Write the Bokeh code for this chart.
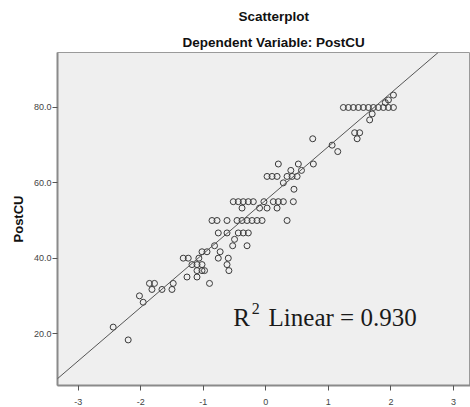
from bokeh.plotting import figure
from bokeh.models import Range1d, Label, Slope, FixedTicker, ColumnDataSource, Title
from bokeh.embed import file_html
from bokeh.resources import INLINE

title_text = "Scatterplot"
subtitle_text = "Dependent Variable: PostCU"
y_axis_label = "PostCU"
r2_base = "R"
r2_sup = "2"
r2_rest = "Linear = 0.930"

x_ticks = [-3, -2, -1, 0, 1, 2, 3]
x_tick_labels = ["-3", "-2", "-1", "0", "1", "2", "3"]
y_ticks = [20, 40, 60, 80]
y_tick_labels = ["20.0", "40.0", "60.0", "80.0"]

fit_intercept = 55.4
fit_slope = 14.23

# standardized predicted value (x) and PostCU (y)
x_vals = [
    -2.44, -2.20, -2.02, -1.96, -1.86, -1.78, -1.82, -1.66, -1.48, -1.50,
    -1.32, -1.24, -1.26, -1.10, -0.90, -1.18, -1.10, -1.02, -1.10, -1.02,
    -0.98, -1.07, -1.02, -0.94, -0.76, -0.60, -0.62, -0.59, -0.73, -0.82,
    -0.53, -0.30, -0.50, -0.76, -0.62, -0.44, -0.36, -0.28,
    -0.86, -0.78, -0.62, -0.46, -0.38, -0.30, -0.22, -0.14, -0.06, 0.34,
    -0.38, -0.10, 0.02, 0.18,
    -0.52, -0.44, -0.36, -0.28, -0.20, -0.03, 0.12, 0.20, 0.28, 0.44,
    0.45, 0.28,
    0.02, 0.10, 0.18, 0.34, 0.42, 0.50,
    0.40, 0.57,
    0.20, 0.52, 0.76,
    0.75, 1.06, 1.15, 1.42, 1.50, 1.46, 1.66, 1.70,
    1.24, 1.32, 1.40, 1.48, 1.56, 1.64, 1.72, 1.80, 1.88, 1.96, 2.04,
    1.91, 1.96, 2.04,
]
y_vals = [
    21.7, 18.3, 30.0, 28.3, 33.3, 33.3, 31.7, 31.7, 33.3, 31.7,
    40.0, 40.0, 35.0, 35.0, 33.3, 38.3, 38.3, 38.3, 36.7, 36.7,
    36.7, 40.0, 41.7, 41.7, 40.0, 40.0, 38.3, 36.7, 41.7, 43.3,
    43.3, 43.3, 45.0, 46.7, 46.7, 46.7, 46.7, 46.7,
    50.0, 50.0, 50.0, 50.0, 50.0, 50.0, 50.0, 50.0, 50.0, 50.0,
    53.3, 53.3, 53.3, 53.3,
    55.0, 55.0, 55.0, 55.0, 55.0, 55.0, 55.0, 55.0, 55.0, 55.0,
    58.3, 60.0,
    61.7, 61.7, 61.7, 61.7, 61.7, 61.7,
    63.3, 63.3,
    65.0, 65.0, 65.0,
    71.7, 70.0, 68.3, 73.3, 73.3, 71.7, 76.7, 78.3,
    80.0, 80.0, 80.0, 80.0, 80.0, 80.0, 80.0, 80.0, 80.0, 80.0, 80.0,
    81.3, 82.0, 83.3,
]

p = figure(
    width=470, height=407, title=None,
    x_range=Range1d(-3.33, 3.272), y_range=Range1d(6.2, 94.6),
    output_backend="svg", toolbar_location=None,
    min_border_left=57, min_border_top=52, min_border_right=0, min_border_bottom=22,
    background_fill_color="#efefef", border_fill_color="white",
)
p.grid.visible = False
p.outline_line_color = "#9a9a9a"
p.outline_line_width = 1

for ax in (p.xaxis[0], p.yaxis[0]):
    ax.axis_line_color = "#8a8a8a"
    ax.axis_line_width = 2
    ax.major_tick_line_color = "#555555"
    ax.major_tick_in = 0
    ax.major_tick_out = 5
    ax.minor_tick_line_color = None
    ax.major_label_text_font = "Liberation Sans"
    ax.major_label_text_font_size = "9px"
    ax.major_label_text_color = "#444444"

p.xaxis[0].ticker = FixedTicker(ticks=x_ticks)
p.xaxis[0].major_label_overrides = dict(zip(x_ticks, x_tick_labels))
p.xaxis[0].major_label_standoff = 8
p.xaxis[0].major_tick_out = 5

p.yaxis[0].ticker = FixedTicker(ticks=y_ticks)
p.yaxis[0].major_label_overrides = dict(zip(y_ticks, y_tick_labels))
p.yaxis[0].major_label_standoff = 1
p.yaxis[0].axis_label = y_axis_label
p.yaxis[0].axis_label_text_font = "Liberation Sans"
p.yaxis[0].axis_label_text_font_style = "bold"
p.yaxis[0].axis_label_text_font_size = "13px"
p.yaxis[0].axis_label_text_color = "#111111"
p.yaxis[0].axis_label_standoff = 5

p.add_layout(Slope(gradient=fit_slope, y_intercept=fit_intercept,
                   line_color="#555555", line_width=1))

src = ColumnDataSource(dict(x=x_vals, y=y_vals))
p.scatter("x", "y", source=src, size=6, marker="circle",
          fill_color=None, line_color="#3a3a3a", line_width=1)

r2_x, r2_y = -0.52, 24.3
serif = "Liberation Serif"
p.add_layout(Label(x=r2_x, y=r2_y, text=r2_base, text_font=serif,
                   text_font_size="25px", text_color="#1a1a1a",
                   text_baseline="alphabetic", text_align="left"))
p.add_layout(Label(x=r2_x, y=r2_y, x_offset=18.5, y_offset=8.4, text=r2_sup,
                   text_font=serif, text_font_size="16px", text_color="#1a1a1a",
                   text_baseline="alphabetic", text_align="left"))
p.add_layout(Label(x=r2_x, y=r2_y, x_offset=35.3, text=r2_rest, text_font=serif,
                   text_font_size="25px", text_color="#1a1a1a",
                   text_baseline="alphabetic", text_align="left"))

sub = Title(text=subtitle_text, align="left", offset=125, standoff=6,
            text_font="Liberation Sans", text_font_style="bold",
            text_font_size="13.5px", text_color="#111111")
top = Title(text=title_text, align="left", offset=181, standoff=12,
            text_font="Liberation Sans", text_font_style="bold",
            text_font_size="13.5px", text_color="#111111")
p.add_layout(sub, "above")
p.add_layout(top, "above")

open("out.html", "w").write(file_html(p, INLINE))
